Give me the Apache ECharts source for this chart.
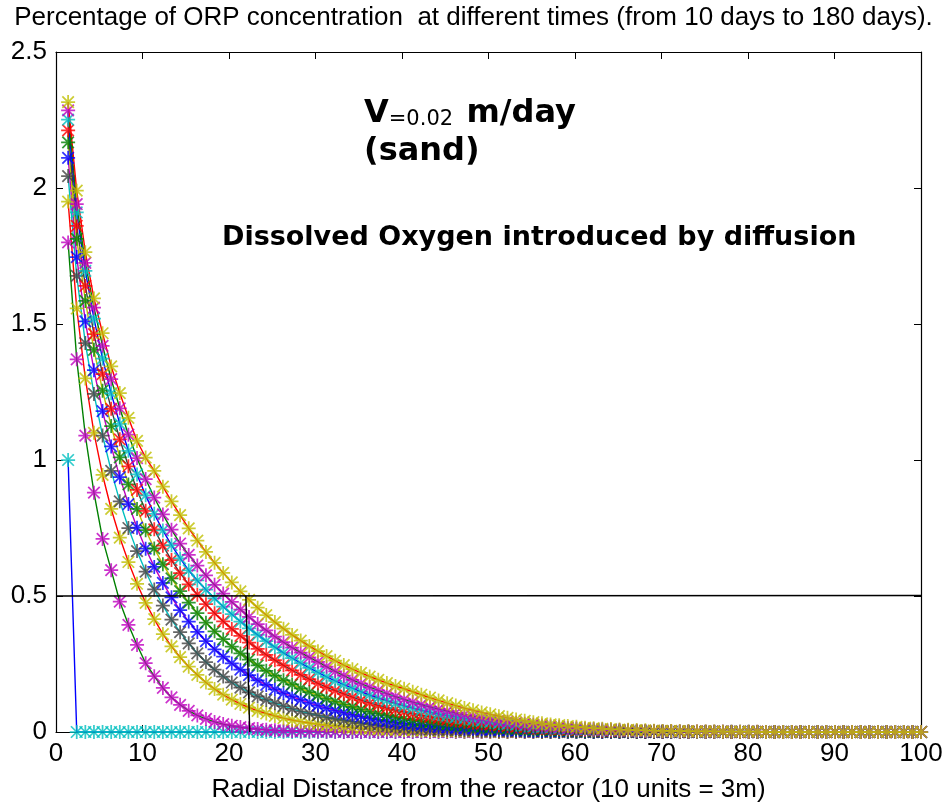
<!DOCTYPE html>
<html>
<head>
<meta charset="utf-8">
<script src="https://cdn.jsdelivr.net/npm/echarts@6/dist/echarts.min.js"></script>
<style>
  html, body { margin: 0; padding: 0; background: #fff; }
  #chart { width: 947px; height: 808px; }
</style>
</head>
<body>
<div id="chart"></div>
<script>
// radial distance of each sample (x positions of the markers)
const dist = [];
for (let i = 0; i < 100; i++) dist.push(+(1.4 + i * 0.996).toFixed(3));

// ORP concentration, one array per time
const day10 = [1.0,0,0,0,0,0,0,0,0,0,
  0,0,0,0,0,0,0,0,0,0, 0,0,0,0,0,0,0,0,0,0, 0,0,0,0,0,0,0,0,0,0,
  0,0,0,0,0,0,0,0,0,0, 0,0,0,0,0,0,0,0,0,0, 0,0,0,0,0,0,0,0,0,0,
  0,0,0,0,0,0,0,0,0,0, 0,0,0,0,0,0,0,0,0,0, 0,0,0,0,0,0,0,0,0,0];
const day20 = [1.80,1.37,1.09,0.88,0.71,0.595,0.479,0.394,0.32,0.253,
  0.205,0.162,0.127,0.1,0.078,0.061,0.048,0.037,0.029,0.023,
  0.018,0.014,0.011,0.008,0.006,0.005,0.004,0.003,0.002,0.002,
  0.001,0.001,0,0,0,0,0,0,0,0,
  0,0,0,0,0,0,0,0,0,0, 0,0,0,0,0,0,0,0,0,0, 0,0,0,0,0,0,0,0,0,0,
  0,0,0,0,0,0,0,0,0,0, 0,0,0,0,0,0,0,0,0,0, 0,0,0,0,0,0,0,0,0,0];
const day40 = [1.95,1.557,1.30,1.10,0.945,0.82,0.715,0.625,0.545,0.475,
  0.415,0.36,0.315,0.275,0.24,0.21,0.182,0.158,0.137,0.119,
  0.103,0.09,0.078,0.068,0.059,0.051,0.044,0.038,0.033,0.029,
  0.025,0.022,0.019,0.016,0.014,0.012,0.01,0.009,0.008,0.007,
  0.006,0.005,0.004,0.004,0.003,0.003,0.002,0.002,0.002,0.001,
  0.001,0.001,0.001,0.001,0.001,0,0,0,0,0,
  0,0,0,0,0,0,0,0,0,0, 0,0,0,0,0,0,0,0,0,0,
  0,0,0,0,0,0,0,0,0,0, 0,0,0,0,0,0,0,0,0,0];
const day60 = [2.044,1.677,1.43,1.243,1.09,0.96,0.848,0.75,0.665,0.59,
  0.524,0.465,0.413,0.367,0.326,0.289,0.257,0.229,0.204,0.182,
  0.163,0.146,0.131,0.118,0.106,0.095,0.085,0.076,0.068,0.061,
  0.054,0.048,0.043,0.038,0.033,0.029,0.025,0.022,0.019,0.016,
  0.014,0.012,0.01,0.009,0.008,0.007,0.006,0.005,0.004,0.004,
  0.003,0.003,0.002,0.002,0.002,0.001,0.001,0.001,0.001,0.001,
  0,0,0,0,0,0,0,0,0,0, 0,0,0,0,0,0,0,0,0,0,
  0,0,0,0,0,0,0,0,0,0, 0,0,0,0,0,0,0,0,0,0];
const day80 = [2.111,1.746,1.51,1.33,1.18,1.05,0.937,0.838,0.751,0.674,
  0.607,0.548,0.495,0.448,0.406,0.368,0.334,0.304,0.277,0.252,
  0.229,0.209,0.19,0.173,0.157,0.143,0.13,0.118,0.107,0.097,
  0.088,0.079,0.071,0.064,0.057,0.051,0.045,0.04,0.035,0.031,
  0.028,0.025,0.022,0.019,0.017,0.015,0.013,0.012,0.01,0.009,
  0.008,0.007,0.006,0.005,0.004,0.004,0.003,0.003,0.002,0.002,
  0.002,0.001,0.001,0.001,0.001,0.001,0.001,0,0,0,
  0,0,0,0,0,0,0,0,0,0, 0,0,0,0,0,0,0,0,0,0, 0,0,0,0,0,0,0,0,0,0];
const day100 = [2.168,1.813,1.585,1.405,1.255,1.125,1.01,0.91,0.82,0.742,
  0.675,0.617,0.565,0.518,0.476,0.437,0.402,0.37,0.341,0.314,
  0.289,0.266,0.245,0.225,0.207,0.19,0.175,0.16,0.147,0.135,
  0.123,0.112,0.102,0.092,0.083,0.075,0.068,0.061,0.055,0.049,
  0.044,0.04,0.036,0.032,0.029,0.026,0.023,0.021,0.019,0.017,
  0.015,0.013,0.011,0.01,0.009,0.008,0.007,0.006,0.005,0.004,
  0.004,0.003,0.003,0.002,0.002,0.002,0.001,0.001,0.001,0.001,
  0.001,0,0,0,0,0,0,0,0,0,
  0,0,0,0,0,0,0,0,0,0, 0,0,0,0,0,0,0,0,0,0];
const day120 = [2.212,1.861,1.64,1.463,1.316,1.188,1.076,0.977,0.89,0.813,
  0.745,0.685,0.632,0.584,0.543,0.505,0.47,0.437,0.407,0.379,
  0.353,0.329,0.306,0.284,0.264,0.245,0.227,0.21,0.194,0.179,
  0.165,0.152,0.14,0.128,0.117,0.107,0.098,0.089,0.081,0.074,
  0.067,0.061,0.056,0.051,0.046,0.042,0.038,0.034,0.031,0.028,
  0.025,0.022,0.02,0.018,0.016,0.014,0.012,0.011,0.009,0.008,
  0.007,0.006,0.005,0.005,0.004,0.003,0.003,0.003,0.002,0.002,
  0.002,0.001,0.001,0.001,0.001,0.001,0.001,0,0,0,
  0,0,0,0,0,0,0,0,0,0, 0,0,0,0,0,0,0,0,0,0];
const day140 = [2.251,1.91,1.695,1.52,1.373,1.245,1.133,1.034,0.947,0.87,
  0.802,0.741,0.687,0.638,0.594,0.557,0.523,0.491,0.461,0.433,
  0.406,0.381,0.357,0.334,0.312,0.291,0.272,0.253,0.236,0.219,
  0.203,0.188,0.174,0.161,0.148,0.136,0.125,0.115,0.105,0.096,
  0.088,0.08,0.073,0.066,0.06,0.055,0.05,0.045,0.041,0.037,
  0.033,0.03,0.027,0.024,0.021,0.019,0.017,0.015,0.013,0.011,
  0.01,0.009,0.008,0.007,0.006,0.005,0.004,0.004,0.003,0.003,
  0.002,0.002,0.002,0.001,0.001,0.001,0.001,0.001,0.001,0.001,
  0,0,0,0,0,0,0,0,0,0, 0,0,0,0,0,0,0,0,0,0];
const day160 = [2.285,1.941,1.725,1.56,1.42,1.297,1.19,1.093,1.007,0.93,
  0.862,0.8,0.744,0.693,0.651,0.612,0.576,0.541,0.509,0.478,
  0.45,0.423,0.397,0.374,0.351,0.33,0.31,0.292,0.274,0.258,
  0.24,0.223,0.207,0.192,0.178,0.165,0.153,0.141,0.13,0.12,
  0.11,0.101,0.092,0.084,0.077,0.07,0.064,0.058,0.052,0.047,
  0.042,0.038,0.034,0.03,0.027,0.024,0.021,0.019,0.016,0.014,
  0.012,0.011,0.009,0.008,0.007,0.006,0.005,0.004,0.004,0.003,
  0.003,0.002,0.002,0.002,0.001,0.001,0.001,0.001,0.001,0.001,
  0.001,0,0,0,0,0,0,0,0,0, 0,0,0,0,0,0,0,0,0,0];
const day180 = [2.316,1.99,1.764,1.594,1.466,1.344,1.246,1.155,1.07,1.009,
  0.96,0.902,0.848,0.797,0.749,0.704,0.662,0.622,0.585,0.55,
  0.517,0.486,0.457,0.43,0.404,0.38,0.357,0.336,0.316,0.297,
  0.279,0.262,0.246,0.231,0.217,0.204,0.192,0.18,0.169,0.159,
  0.148,0.137,0.126,0.116,0.106,0.097,0.088,0.08,0.072,0.065,
  0.058,0.052,0.046,0.041,0.036,0.032,0.028,0.025,0.022,0.019,
  0.016,0.014,0.012,0.011,0.009,0.008,0.007,0.006,0.005,0.004,
  0.004,0.003,0.003,0.002,0.002,0.002,0.001,0.001,0.001,0.001,
  0.001,0,0,0,0,0,0,0,0,0, 0,0,0,0,0,0,0,0,0,0];

const curves = [day10, day20, day40, day60, day80, day100, day120, day140, day160, day180];

// the 0.5 level and the line dropped to the axis
const halfLevel = [[0, 0.5], [100, 0.502]];
const dropLine = [[21.95, 0.5], [22.4, 0]];

// matlab colour order b g r c m y k, markers run 3 ahead of the lines
const cyc = ['#0000ff', '#008000', '#ff0000', '#00bfbf', '#bf00bf', '#bfbf00', '#404040'];

// asterisk marker, bars 3 units thick in a 24 box
const star = 'path://M0 10.5H24V13.5H0Z M10.5 0H13.5V24H10.5Z M3.2 1.1L22.9 20.8L20.8 22.9L1.1 3.2Z M20.8 1.1L22.9 3.2L3.2 22.9L1.1 20.8Z';

const tickFont = 'Liberation Sans, Arial, sans-serif';

let series = [];
curves.forEach((c, k) => {
  series.push({
    type: 'line',
    data: c.map((v, i) => [dist[i], v]),
    showSymbol: false,
    lineStyle: { color: cyc[k % 7], width: 1.4 },
    z: 2
  });
});
curves.forEach((c, k) => {
  series.push({
    type: 'scatter',
    data: c.map((v, i) => [dist[i], v]),
    symbol: star,
    symbolSize: 14,
    clip: false,
    itemStyle: { color: cyc[(k + 3) % 7] },
    z: 3
  });
});
series.push({
  type: 'line', data: halfLevel, showSymbol: false,
  lineStyle: { color: '#000', width: 1.4 }, z: 4
});
series.push({
  type: 'line', data: dropLine, showSymbol: false,
  lineStyle: { color: '#000', width: 1.4 }, z: 4
});

const axisLine = { onZero: false, lineStyle: { color: '#000', width: 1.2 } };
const axisTick = { inside: true, length: 7, lineStyle: { color: '#000', width: 1 } };

const chart = echarts.init(document.getElementById('chart'));
chart.setOption({
  animation: false,
  backgroundColor: '#fff',
  title: [
    {
      text: 'Percentage of ORP concentration  at different times (from 10 days to 180 days).',
      left: 'center', top: 5, padding: 0,
      textStyle: { fontFamily: tickFont, fontSize: 26, fontWeight: 'normal', color: '#000' }
    },
    {
      text: '{v|V}{s|=0.02  }{v|m/day}',
      left: 364, top: 96, padding: 0,
      textStyle: {
        rich: {
          v: { fontFamily: 'DejaVu Sans', fontWeight: 'bold', fontSize: 32, color: '#000', verticalAlign: 'bottom', lineHeight: 34 },
          s: { fontFamily: 'DejaVu Sans', fontWeight: 'normal', fontSize: 21, color: '#000', verticalAlign: 'bottom', lineHeight: 30 }
        }
      }
    },
    {
      text: '(sand)',
      left: 364, top: 136, padding: 0,
      textStyle: { fontFamily: 'DejaVu Sans', fontWeight: 'bold', fontSize: 32, color: '#000' }
    },
    {
      text: 'Dissolved Oxygen introduced by diffusion',
      left: 222, top: 224, padding: 0,
      textStyle: { fontFamily: 'DejaVu Sans', fontWeight: 'bold', fontSize: 27, color: '#000' }
    }
  ],
  grid: { left: 56, right: 26, top: 52, bottom: 72, containLabel: false },
  xAxis: [
    {
      type: 'value', min: 0, max: 100, interval: 10, position: 'bottom',
      axisLine: axisLine, axisTick: axisTick, splitLine: { show: false },
      axisLabel: { fontFamily: tickFont, fontSize: 26, color: '#000', margin: 9 },
      name: 'Radial Distance from the reactor (10 units = 3m)',
      nameLocation: 'middle', nameGap: 45,
      nameTextStyle: { fontFamily: tickFont, fontSize: 26, color: '#000' }
    },
    {
      type: 'value', min: 0, max: 100, interval: 10, position: 'top',
      axisLine: axisLine, axisTick: axisTick, splitLine: { show: false },
      axisLabel: { show: false }
    }
  ],
  yAxis: [
    {
      type: 'value', min: 0, max: 2.5, interval: 0.5, position: 'left',
      axisLine: axisLine, axisTick: axisTick, splitLine: { show: false },
      axisLabel: { fontFamily: tickFont, fontSize: 26, color: '#000', margin: 9 }
    },
    {
      type: 'value', min: 0, max: 2.5, interval: 0.5, position: 'right',
      axisLine: axisLine, axisTick: axisTick, splitLine: { show: false },
      axisLabel: { show: false }
    }
  ],
  series: series
});
</script>
</body>
</html>
